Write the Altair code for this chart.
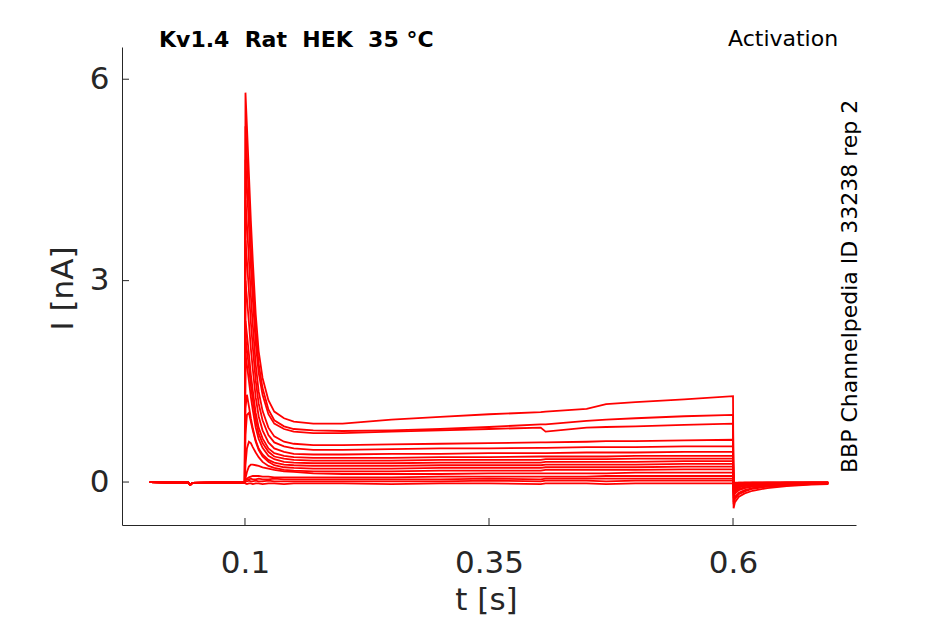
import altair as alt
import pandas as pd

# ---- data ----
TITLE = "Kv1.4\u00a0 Rat\u00a0 HEK\u00a0 35 °C"
PROTOCOL = "Activation"
SIDE_LABEL = "BBP Channelpedia ID 33238 rep 2"
X_TITLE = "t [s]"
Y_TITLE = "I [nA]"
X_TICKS = [0.1, 0.35, 0.6]
Y_TICKS = [0, 3, 6]

# holding current before the step (same for all sweeps)
PRE_T = [0.0025, 0.02, 0.042, 0.044, 0.046, 0.07, 0.0998]
PRE_I = [0.0, -0.005, -0.01, -0.04, -0.012, -0.01, -0.01]

# during the step
PULSE_T = [0.1005, 0.102, 0.104, 0.106, 0.108, 0.111, 0.114, 0.118, 0.124, 0.13,
           0.14, 0.15, 0.17, 0.2, 0.25, 0.3, 0.35, 0.403, 0.408, 0.45, 0.47, 0.5,
           0.55, 0.6]
PULSE_I = [
    [-0.02, -0.03, -0.02, -0.02, -0.03, -0.02, -0.02, -0.03, -0.02, -0.02, -0.03, -0.02, -0.02,
     -0.02, -0.03, -0.02, -0.02, -0.03, -0.02, -0.02, -0.03, -0.02, -0.02, -0.02],
    [0.01, 0.01, 0.02, 0.01, 0.01, 0.02, 0.01, 0.01, 0.02, 0.01, 0.01, 0.01, 0.01,
     0.01, 0.01, 0.01, 0.02, 0.01, 0.02, 0.02, 0.01, 0.02, 0.02, 0.02],
    [0.03, 0.04, 0.04, 0.05, 0.04, 0.04, 0.05, 0.04, 0.04, 0.05, 0.04, 0.04, 0.04,
     0.04, 0.04, 0.04, 0.05, 0.04, 0.05, 0.05, 0.05, 0.05, 0.05, 0.05],
    [0.02, 0.05, 0.07, 0.08, 0.09, 0.09, 0.09, 0.08, 0.08, 0.07, 0.07, 0.07, 0.07,
     0.07, 0.07, 0.08, 0.08, 0.08, 0.08, 0.08, 0.09, 0.09, 0.09, 0.09],
    [0.05, 0.15, 0.23, 0.26, 0.26, 0.25, 0.24, 0.22, 0.2, 0.18, 0.16, 0.15, 0.13,
     0.12, 0.12, 0.12, 0.13, 0.13, 0.13, 0.13, 0.13, 0.14, 0.14, 0.14],
    [0.25, 0.5, 0.6, 0.58, 0.52, 0.44, 0.37, 0.3, 0.24, 0.21, 0.18, 0.17, 0.16,
     0.16, 0.16, 0.17, 0.17, 0.17, 0.18, 0.18, 0.18, 0.18, 0.19, 0.19],
    [0.7, 1.0, 1.03, 0.9, 0.77, 0.6, 0.48, 0.38, 0.3, 0.25, 0.22, 0.21, 0.2,
     0.2, 0.2, 0.21, 0.21, 0.21, 0.22, 0.22, 0.22, 0.22, 0.23, 0.23],
    [1.1, 1.3, 1.13, 0.95, 0.8, 0.62, 0.5, 0.41, 0.33, 0.29, 0.26, 0.25, 0.24,
     0.24, 0.24, 0.25, 0.25, 0.25, 0.26, 0.26, 0.26, 0.26, 0.27, 0.27],
    [1.9, 1.74, 1.51, 1.27, 1.07, 0.81, 0.64, 0.51, 0.39, 0.34, 0.3, 0.29, 0.28,
     0.28, 0.28, 0.29, 0.29, 0.29, 0.3, 0.3, 0.3, 0.3, 0.31, 0.31],
    [2.15, 1.97, 1.71, 1.44, 1.22, 0.92, 0.72, 0.58, 0.45, 0.38, 0.35, 0.33, 0.32,
     0.32, 0.32, 0.33, 0.33, 0.33, 0.34, 0.34, 0.34, 0.35, 0.35, 0.35],
    [2.4, 2.2, 1.91, 1.6, 1.36, 1.03, 0.81, 0.65, 0.5, 0.43, 0.39, 0.37, 0.36,
     0.36, 0.36, 0.37, 0.37, 0.38, 0.38, 0.38, 0.38, 0.39, 0.39, 0.39],
    [3.0, 2.74, 2.38, 1.99, 1.68, 1.26, 0.98, 0.77, 0.59, 0.5, 0.45, 0.42, 0.41,
     0.41, 0.42, 0.42, 0.43, 0.43, 0.43, 0.44, 0.44, 0.44, 0.45, 0.45],
    [3.6, 3.29, 2.85, 2.38, 2.01, 1.51, 1.17, 0.92, 0.7, 0.59, 0.53, 0.5, 0.48,
     0.48, 0.49, 0.5, 0.5, 0.51, 0.51, 0.52, 0.52, 0.52, 0.53, 0.53],
    [4.2, 3.84, 3.32, 2.78, 2.34, 1.75, 1.35, 1.06, 0.81, 0.68, 0.6, 0.57, 0.55,
     0.55, 0.56, 0.57, 0.58, 0.59, 0.59, 0.6, 0.61, 0.61, 0.62, 0.63],
    [4.8, 4.39, 3.82, 3.21, 2.72, 2.07, 1.63, 1.3, 1.01, 0.87, 0.79, 0.75, 0.73,
     0.73, 0.75, 0.77, 0.79, 0.81, 0.75, 0.81, 0.82, 0.83, 0.85, 0.87],
    [5.3, 4.85, 4.21, 3.53, 2.98, 2.26, 1.76, 1.4, 1.08, 0.92, 0.83, 0.79, 0.77,
     0.76, 0.77, 0.79, 0.82, 0.86, 0.86, 0.91, 0.93, 0.95, 0.98, 1.0],
    [5.8, 5.3, 4.6, 3.9, 3.3, 2.5, 1.95, 1.55, 1.22, 1.05, 0.95, 0.9, 0.87,
     0.87, 0.93, 0.97, 1.01, 1.04, 1.05, 1.09, 1.16, 1.19, 1.23, 1.28],
]

# after the step
TAIL_T = [0.6006, 0.602, 0.606, 0.612, 0.62, 0.635, 0.655, 0.68, 0.6975]
TAIL_I = [
    [-0.02, -0.02, -0.02, -0.02, -0.02, -0.02, -0.02, -0.02, -0.02],
    [-0.01, -0.01, -0.01, -0.01, -0.01, -0.01, -0.01, -0.01, -0.01],
    [-0.02, -0.02, -0.01, -0.01, -0.01, -0.01, -0.01, -0.01, -0.01],
    [-0.03, -0.02, -0.02, -0.01, -0.01, -0.01, -0.01, -0.01, -0.01],
    [-0.04, -0.03, -0.02, -0.02, -0.01, -0.01, -0.01, -0.01, -0.01],
    [-0.05, -0.04, -0.03, -0.02, -0.02, -0.01, -0.01, -0.01, -0.01],
    [-0.07, -0.05, -0.03, -0.03, -0.02, -0.02, -0.01, -0.01, -0.01],
    [-0.08, -0.06, -0.04, -0.03, -0.02, -0.02, -0.01, -0.01, -0.01],
    [-0.1, -0.07, -0.05, -0.04, -0.03, -0.02, -0.02, -0.01, -0.01],
    [-0.12, -0.08, -0.06, -0.04, -0.03, -0.02, -0.02, -0.01, -0.01],
    [-0.14, -0.1, -0.07, -0.05, -0.04, -0.03, -0.02, -0.02, -0.01],
    [-0.17, -0.12, -0.08, -0.06, -0.05, -0.03, -0.02, -0.02, -0.02],
    [-0.2, -0.14, -0.1, -0.08, -0.06, -0.04, -0.03, -0.02, -0.02],
    [-0.24, -0.17, -0.12, -0.09, -0.07, -0.05, -0.03, -0.02, -0.02],
    [-0.3, -0.22, -0.16, -0.12, -0.09, -0.06, -0.04, -0.03, -0.02],
    [-0.33, -0.25, -0.18, -0.14, -0.1, -0.07, -0.05, -0.03, -0.03],
    [-0.39, -0.3, -0.22, -0.17, -0.13, -0.09, -0.06, -0.04, -0.03],
]

# ---- build table ----
rows = []
for k in range(len(PULSE_I)):
    for t, v in zip(PRE_T, PRE_I):
        rows.append({"sweep": k, "t": t, "I": v})
    for t, v in zip(PULSE_T, PULSE_I[k]):
        rows.append({"sweep": k, "t": t, "I": v})
    for t, v in zip(TAIL_T, TAIL_I[k]):
        rows.append({"sweep": k, "t": t, "I": v})
df = pd.DataFrame(rows)

FONT = "DejaVu Sans"
INK = "#262626"
W, H = 734, 478

xscale = alt.Scale(domain=[-0.026, 0.726], nice=False, zero=False)
yscale = alt.Scale(domain=[-0.64, 6.48], nice=False, zero=False)

xaxis = alt.Axis(values=X_TICKS, format=".2~f", title=X_TITLE,
                 labelPadding=47, labelBaseline="alphabetic",
                 titleX=364, titleY=84, titleAlign="center",
                 titleBaseline="alphabetic")
yaxis = alt.Axis(values=Y_TICKS, format="d", title=Y_TITLE,
                 labelPadding=13, titleAngle=270, titleAlign="left",
                 titleBaseline="alphabetic", titleX=-50, titleY=283)

traces = alt.Chart(df).mark_line(color="#ff0000", strokeWidth=1.8).encode(
    x=alt.X("t:Q", scale=xscale, axis=xaxis),
    y=alt.Y("I:Q", scale=yscale, axis=yaxis),
    detail="sweep:N",
)

xt = alt.Chart(pd.DataFrame({"t": X_TICKS})).mark_rule(color=INK, strokeWidth=1).encode(
    x=alt.X("t:Q", scale=xscale, axis=xaxis),
    y=alt.value(H), y2=alt.value(H - 7),
)
yt = alt.Chart(pd.DataFrame({"I": Y_TICKS})).mark_rule(color=INK, strokeWidth=1).encode(
    y=alt.Y("I:Q", scale=yscale, axis=yaxis),
    x=alt.value(0), x2=alt.value(7),
)

title_txt = alt.Chart(pd.DataFrame({"s": [TITLE]})).mark_text(
    font=FONT, fontSize=22, fontWeight="bold", color="black", align="left",
    baseline="alphabetic").encode(text="s:N", x=alt.value(37), y=alt.value(0))

proto_txt = alt.Chart(pd.DataFrame({"s": [PROTOCOL]})).mark_text(
    font=FONT, fontSize=22, color="black", align="left",
    baseline="alphabetic").encode(text="s:N", x=alt.value(606), y=alt.value(-1))

side_txt = alt.Chart(pd.DataFrame({"s": [SIDE_LABEL]})).mark_text(
    font=FONT, fontSize=22, color="black", align="left", angle=270,
    baseline="alphabetic").encode(text="s:N", x=alt.value(735), y=alt.value(426))

chart = alt.layer(traces, xt, yt, title_txt, proto_txt, side_txt).properties(
    width=W, height=H,
    padding={"left": 114, "top": 39, "right": 81, "bottom": 91},
    autosize=alt.AutoSizeParams(type="none"),
).configure_view(strokeWidth=0).configure_axis(
    grid=False, domainColor=INK, domainWidth=1, tickSize=0,
    labelColor=INK, titleColor=INK, labelFont=FONT, titleFont=FONT,
    labelFontSize=31, titleFontSize=31, titleFontWeight="normal",
)

chart.save("out.html", embed_options={"renderer": "svg", "actions": False})
